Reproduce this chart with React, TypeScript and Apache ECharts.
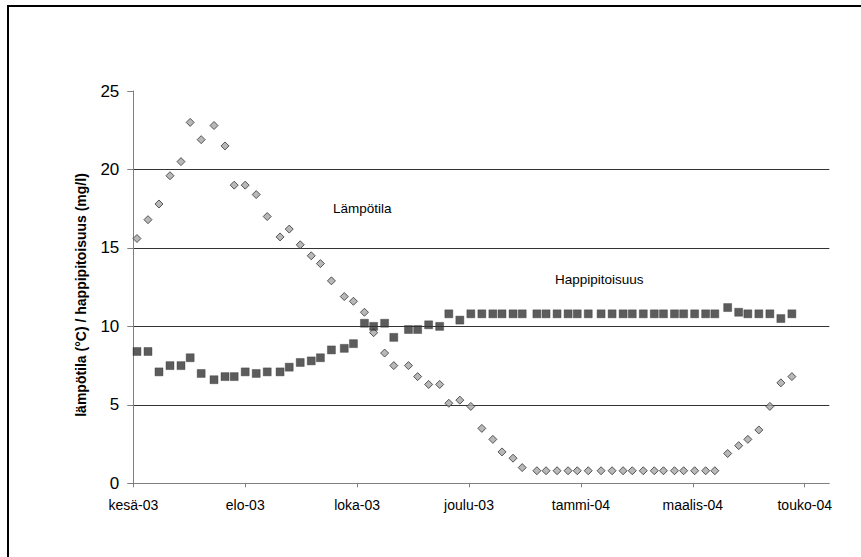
import React, { useEffect, useRef } from "react";
import * as echarts from "echarts";

// Sampling days counted from the start of the axis (kesä-03 = day 0)
const sampleDays = [
  2, 8, 14, 20, 26, 31, 37, 44, 50, 55, 61, 67, 73, 80, 85, 91, 97, 102, 108, 115,
  120, 126, 131, 137, 142, 150, 155, 161, 167, 172, 178, 184, 190, 196, 201, 207, 212, 220, 225, 231,
  237, 242, 248, 255, 261, 267, 272, 278, 284, 289, 295, 300, 306, 312, 317, 324, 330, 335, 341, 347,
  353, 359,
];

// Water temperature (°C)
const lampotila = [
  15.6, 16.8, 17.8, 19.6, 20.5, 23.0, 21.9, 22.8, 21.5, 19.0, 19.0, 18.4, 17.0, 15.7, 16.2, 15.2, 14.5, 14.0, 12.9, 11.9,
  11.6, 10.9, 9.6, 8.3, 7.5, 7.5, 6.8, 6.3, 6.3, 5.1, 5.3, 4.9, 3.5, 2.8, 2.0, 1.6, 1.0, 0.8, 0.8, 0.8,
  0.8, 0.8, 0.8, 0.8, 0.8, 0.8, 0.8, 0.8, 0.8, 0.8, 0.8, 0.8, 0.8, 0.8, 0.8, 1.9, 2.4, 2.8, 3.4, 4.9,
  6.4, 6.8,
];

// Dissolved oxygen (mg/l)
const happipitoisuus = [
  8.4, 8.4, 7.1, 7.5, 7.5, 8.0, 7.0, 6.6, 6.8, 6.8, 7.1, 7.0, 7.1, 7.1, 7.4, 7.7, 7.8, 8.0, 8.5, 8.6,
  8.9, 10.2, 10.0, 10.2, 9.3, 9.8, 9.8, 10.1, 10.0, 10.8, 10.4, 10.8, 10.8, 10.8, 10.8, 10.8, 10.8, 10.8, 10.8, 10.8,
  10.8, 10.8, 10.8, 10.8, 10.8, 10.8, 10.8, 10.8, 10.8, 10.8, 10.8, 10.8, 10.8, 10.8, 10.8, 11.2, 10.9, 10.8, 10.8, 10.8,
  10.5, 10.8,
];

// Month labels on the time axis, one every 61 days
const tickLabels = ["kesä-03", "elo-03", "loka-03", "joulu-03", "tammi-04", "maalis-04", "touko-04"];
const tickStep = 61;
const axisEndDay = 379.4;

const yTicks = [0, 5, 10, 15, 20, 25];

const FONT = "'Liberation Sans', Arial, Helvetica, sans-serif";

export default function App() {
  const ref = useRef<HTMLDivElement>(null);

  useEffect(() => {
    if (!ref.current) return;
    const chart = echarts.init(ref.current, null, { renderer: "svg" });
    const tickValues = tickLabels.map((_, i) => i * tickStep);

    chart.setOption({
      animation: false,
      backgroundColor: "#ffffff",
      grid: { left: 133.3, right: 31.7, top: 91, bottom: 73.7, containLabel: false },
      xAxis: {
        type: "value",
        min: 0,
        max: axisEndDay,
        axisLine: { show: true, lineStyle: { color: "#7f7f7f", width: 1 } },
        axisTick: {
          show: true,
          length: 4,
          inside: false,
          customValues: tickValues,
          lineStyle: { color: "#7f7f7f" },
        },
        axisLabel: {
          customValues: tickValues,
          margin: 15,
          fontSize: 14,
          fontFamily: FONT,
          color: "#000",
          formatter: (v: number) => tickLabels[Math.round(v / tickStep)] ?? "",
        },
        splitLine: { show: false },
      },
      yAxis: {
        type: "value",
        min: yTicks[0],
        max: yTicks[yTicks.length - 1],
        interval: 5,
        axisLine: { show: true, lineStyle: { color: "#7f7f7f", width: 1 } },
        axisTick: { show: true, length: 6, lineStyle: { color: "#7f7f7f" } },
        axisLabel: {
          margin: 14,
          fontSize: 17,
          fontFamily: FONT,
          color: "#000",
        },
        splitLine: {
          show: true,
          showMinLine: false,
          showMaxLine: false,
          lineStyle: { color: "#333333", width: 1 },
        },
      },
      graphic: [
        {
          type: "rect",
          shape: { x: 8, y: 6, width: 870, height: 570 },
          style: { fill: "none", stroke: "#000", lineWidth: 2 },
          silent: true,
        },
        {
          type: "text",
          x: 81,
          y: 295,
          rotation: Math.PI / 2,
          style: {
            text: "lämpötila (°C) / happipitoisuus (mg/l)",
            font: `bold 14px ${FONT}`,
            fill: "#000",
            align: "center",
            verticalAlign: "middle",
          },
        },
        {
          type: "text",
          x: 333,
          y: 208,
          style: {
            text: "Lämpötila",
            font: `13.5px ${FONT}`,
            fill: "#000",
            align: "left",
            verticalAlign: "middle",
          },
        },
        {
          type: "text",
          x: 555,
          y: 279,
          style: {
            text: "Happipitoisuus",
            font: `13.5px ${FONT}`,
            fill: "#000",
            align: "left",
            verticalAlign: "middle",
          },
        },
      ],
      series: [
        {
          name: "Lämpötila",
          type: "scatter",
          symbol: "diamond",
          symbolSize: 8,
          itemStyle: { color: "#a6a6a6", borderColor: "#333333", borderWidth: 1 },
          data: sampleDays.map((d, i) => [d, lampotila[i]]),
          z: 2,
        },
        {
          name: "Happipitoisuus",
          type: "scatter",
          symbol: "rect",
          symbolSize: 8,
          itemStyle: { color: "#333333", borderColor: "#3a3a3a", borderWidth: 0.5 },
          data: sampleDays.map((d, i) => [d, happipitoisuus[i]]),
          z: 3,
        },
      ],
    });

    return () => chart.dispose();
  }, []);

  return (
    <div
      ref={ref}
      style={{ position: "fixed", left: 0, top: 0, width: 861, height: 557, background: "#fff" }}
    />
  );
}
